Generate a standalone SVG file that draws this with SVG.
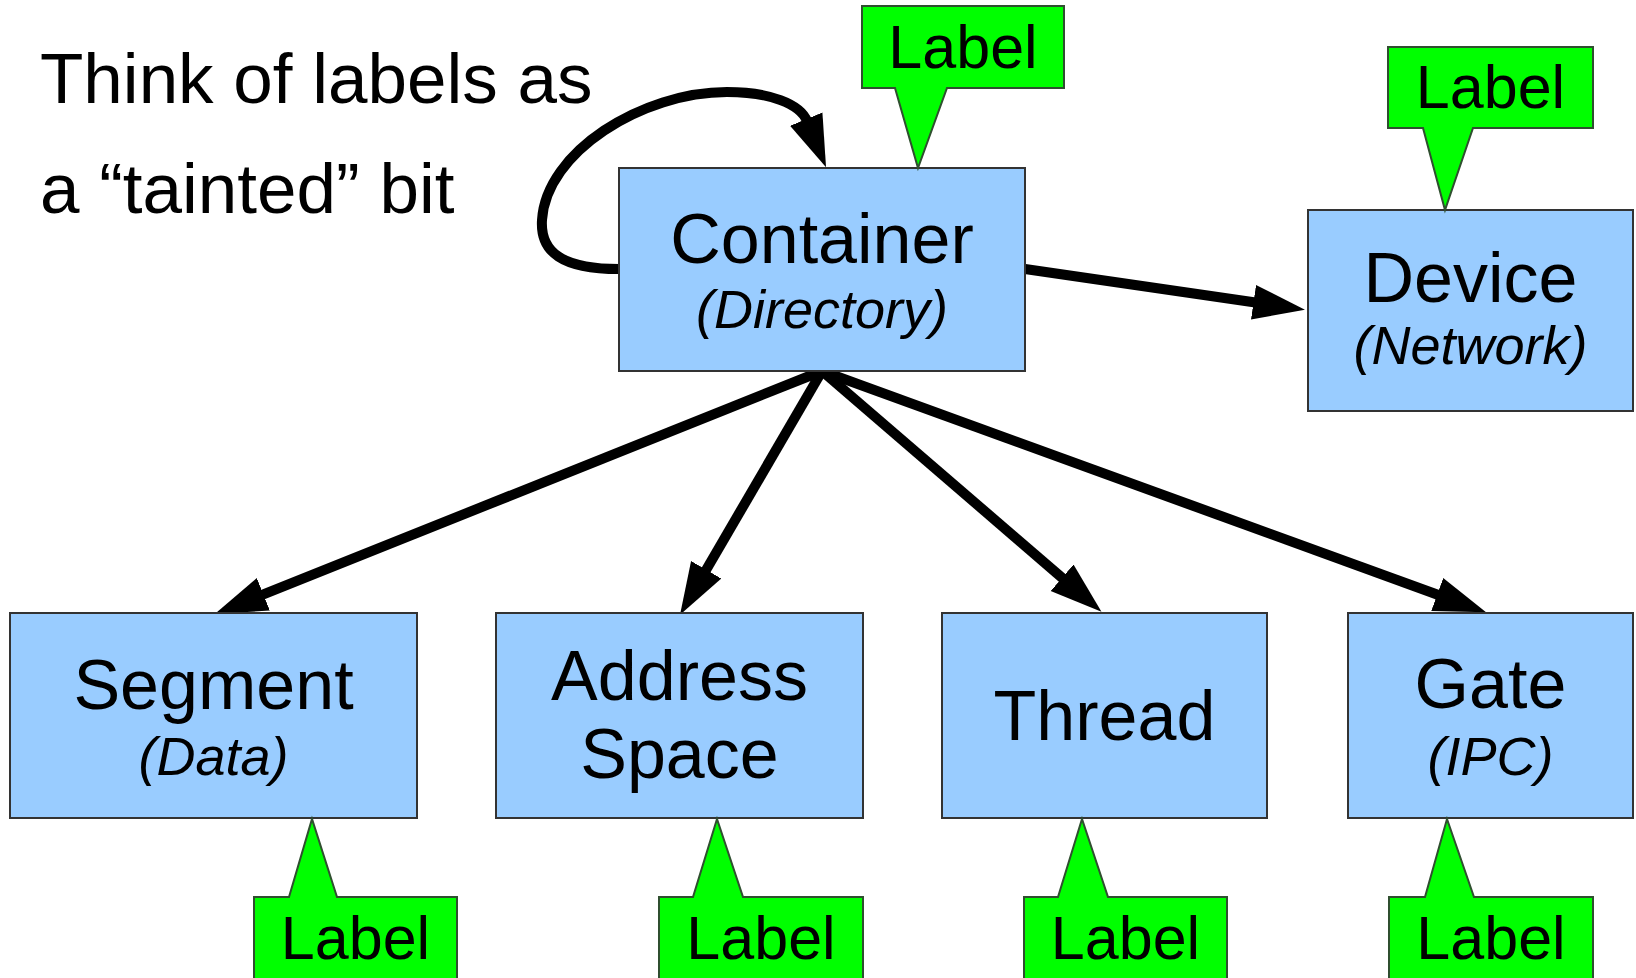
<svg xmlns="http://www.w3.org/2000/svg" width="1636" height="978" viewBox="0 0 1636 978">
  <style>
    .box { fill: #99ccff; stroke: #333333; stroke-width: 2; }
    .tag { fill: #00ff00; stroke: #2f4f2f; stroke-width: 2; stroke-linejoin: miter; }
    .main { font-family: "Liberation Sans", Arial, sans-serif; font-size: 70px; fill: #000; text-anchor: middle; }
    .sub { font-family: "Liberation Sans", Arial, sans-serif; font-size: 54px; font-style: italic; fill: #000; text-anchor: middle; }
    .tagtext { font-family: "Liberation Sans", Arial, sans-serif; font-size: 61px; fill: #000; text-anchor: middle; }
    .note { font-family: "Liberation Sans", Arial, sans-serif; font-size: 71px; fill: #000; }
    .edge { fill: none; stroke: #000; stroke-width: 10; }
  </style>
  <defs>
    <marker id="head" markerUnits="userSpaceOnUse" markerWidth="60" markerHeight="44" viewBox="0 -22 60 44" refX="2" refY="0" orient="auto">
      <path d="M0,-17.5 L52,0 L0,17.5 Z" fill="#000"/>
    </marker>
  </defs>

  <rect width="1636" height="978" fill="#ffffff"/>

  <!-- caption -->
  <g id="caption">
    <text class="note" x="40" y="103">Think of labels as</text>
    <text class="note" x="40" y="213">a “tainted” bit</text>
  </g>

  <!-- connectors -->
  <g id="connectors">
    <path class="edge" d="M619,269 C562,269 540,252 542,220 C546,152 642,92 727,92 C770,92 800,104 807,121" marker-end="url(#head)"/>
    <path class="edge" d="M1025,269 L1255.5,302.5" marker-end="url(#head)"/>
    <path class="edge" d="M822,371 L261.5,595.1" marker-end="url(#head)"/>
    <path class="edge" d="M822,371 L705.2,571.5" marker-end="url(#head)"/>
    <path class="edge" d="M822,371 L1063.6,579.1" marker-end="url(#head)"/>
    <path class="edge" d="M822,371 L1439.1,595.2" marker-end="url(#head)"/>
  </g>

  <!-- object nodes -->
  <g id="container">
    <rect class="box" x="619" y="168" width="406" height="203"/>
    <text class="main" x="822" y="263">Container</text>
    <text class="sub" x="822" y="328">(Directory)</text>
  </g>
  <g id="device">
    <rect class="box" x="1308" y="210" width="325" height="201"/>
    <text class="main" x="1470.5" y="302">Device</text>
    <text class="sub" x="1470.5" y="364">(Network)</text>
  </g>
  <g id="segment">
    <rect class="box" x="10" y="613" width="407" height="205"/>
    <text class="main" x="213.5" y="709">Segment</text>
    <text class="sub" x="213.5" y="775">(Data)</text>
  </g>
  <g id="address-space">
    <rect class="box" x="496" y="613" width="367" height="205"/>
    <text class="main" x="679.5" y="700">Address</text>
    <text class="main" x="679.5" y="778">Space</text>
  </g>
  <g id="thread">
    <rect class="box" x="942" y="613" width="325" height="205"/>
    <text class="main" x="1104.5" y="740">Thread</text>
  </g>
  <g id="gate">
    <rect class="box" x="1348" y="613" width="285" height="205"/>
    <text class="main" x="1490.5" y="708">Gate</text>
    <text class="sub" x="1490.5" y="775">(IPC)</text>
  </g>

  <!-- label callouts -->
  <g id="label-container">
    <path class="tag" d="M862,6 H1064 V88 H947 L918,168 L895,88 H862 Z"/>
    <text class="tagtext" x="963" y="68">Label</text>
  </g>
  <g id="label-device">
    <path class="tag" d="M1388,47 H1593 V128 H1473 L1445,210 L1423,128 H1388 Z"/>
    <text class="tagtext" x="1490.5" y="108">Label</text>
  </g>
  <g id="label-segment">
    <path class="tag" d="M254,990 V897 H289 L312,819 L337,897 H457 V990 Z"/>
    <text class="tagtext" x="355.5" y="959">Label</text>
  </g>
  <g id="label-address-space">
    <path class="tag" d="M659,990 V897 H693 L717,819 L743,897 H863 V990 Z"/>
    <text class="tagtext" x="761" y="959">Label</text>
  </g>
  <g id="label-thread">
    <path class="tag" d="M1024,990 V897 H1058 L1082,819 L1108,897 H1227 V990 Z"/>
    <text class="tagtext" x="1125.5" y="959">Label</text>
  </g>
  <g id="label-gate">
    <path class="tag" d="M1389,990 V897 H1425 L1447,819 L1474,897 H1593 V990 Z"/>
    <text class="tagtext" x="1491" y="959">Label</text>
  </g>
</svg>
